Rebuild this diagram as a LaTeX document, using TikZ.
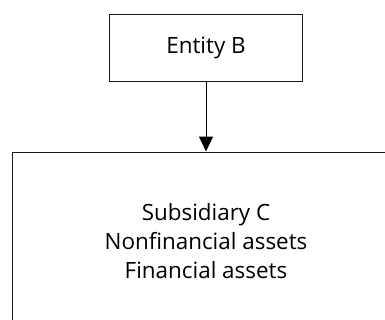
\documentclass[tikz,border=0pt]{standalone}
\usepackage{fontspec}
\setmainfont{Open Sans}
\usetikzlibrary{arrows.meta}
\begin{document}
\begin{tikzpicture}[x=1bp,y=-1bp,
  entitybox/.style={draw=black!90,line width=1bp,rectangle,inner sep=0pt,
    font=\fontsize{22.5}{29}\selectfont,align=center},
  link/.style={draw=black,line width=1bp,-{Triangle[width=14bp,length=15bp]}}]
  \useasboundingbox (0,0) rectangle (385,320);
  \clip (0,0) rectangle (385,320);
  \node[entitybox,minimum width=192bp,minimum height=67bp] (b) at (206,47.5) {Entity B};
  \node[entitybox,minimum width=386bp,minimum height=178bp] (c) at (206,241)
    {Subsidiary C\\Nonfinancial assets\\Financial assets};
  \draw[link] (b.south) -- (c.north);
\end{tikzpicture}
\end{document}
